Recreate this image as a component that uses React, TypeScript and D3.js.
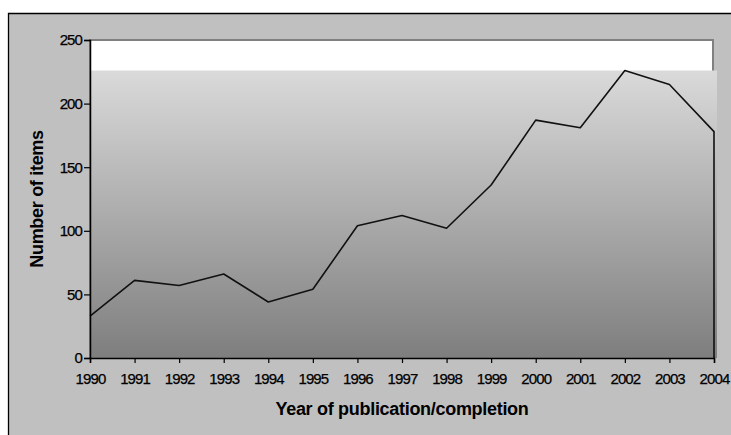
import React, { useRef, useEffect } from "react";
import * as d3 from "d3";

const years = [1990, 1991, 1992, 1993, 1994, 1995, 1996, 1997, 1998, 1999, 2000, 2001, 2002, 2003, 2004];
const items = [33, 61, 57, 66, 44, 54, 104, 112, 102, 136, 187, 181, 226, 215, 178];
const yTicks = [0, 50, 100, 150, 200, 250];

const W = 731;
const H = 435;
const FONT = "'Liberation Sans', Arial, sans-serif";

const App = () => {
  const ref = useRef(null);

  useEffect(() => {
    if (!ref.current) return;
    d3.select(ref.current).select("svg").remove();

    const svg = d3
      .select(ref.current)
      .append("svg")
      .attr("width", W)
      .attr("height", H)
      .style("display", "block");

    const x = d3.scaleLinear().domain([1990, 2004]).range([90, 714]);
    const y = d3.scaleLinear().domain([0, 250]).range([358, 40]);

    // outer chart box (right and bottom edges are off the picture)
    svg.append("rect").attr("width", W).attr("height", H).attr("fill", "#fff");
    svg.append("rect").attr("x", 8).attr("y", 13).attr("width", W - 8).attr("height", H - 13).attr("fill", "#c0c0c0");
    svg
      .append("path")
      .attr("d", `M8.5,${H}V13.5H${W}`)
      .attr("fill", "none")
      .attr("stroke", "#000")
      .attr("stroke-width", 1.3);

    const defs = svg.append("defs");
    const grad = defs
      .append("linearGradient")
      .attr("id", "fillgrad")
      .attr("x1", 0)
      .attr("y1", 0)
      .attr("x2", 0)
      .attr("y2", 1);
    grad.append("stop").attr("offset", "0%").attr("stop-color", "#dadada");
    grad.append("stop").attr("offset", "100%").attr("stop-color", "#7e7e7e");

    // plot area
    svg
      .append("rect")
      .attr("x", x(1990))
      .attr("y", y(250))
      .attr("width", x(2004) - x(1990) - 1)
      .attr("height", y(0) - y(250))
      .attr("fill", "#fff")
      .attr("stroke", "#808080")
      .attr("stroke-width", 2);

    const top = y(d3.max(items));
    svg
      .append("rect")
      .attr("x", x(1990))
      .attr("y", top)
      .attr("width", x(2004) - x(1990) + 3)
      .attr("height", y(0) - top)
      .attr("fill", "url(#fillgrad)");

    // series line
    const line = d3
      .line()
      .x((d) => x(d[0]))
      .y((d) => y(d[1]));
    const pts = years.map((yr, i) => [yr, items[i]]);
    pts.push([2004, 0]);
    svg
      .append("path")
      .datum(pts)
      .attr("fill", "none")
      .attr("stroke", "#111")
      .attr("stroke-width", 1.6)
      .attr("stroke-linejoin", "round")
      .attr("d", line);

    // axes
    const yAxis = svg
      .append("g")
      .attr("transform", `translate(${x(1990)},0)`)
      .call(d3.axisLeft(y).tickValues(yTicks).tickSize(6).tickPadding(2));
    const xAxis = svg
      .append("g")
      .attr("transform", `translate(0,${y(0)})`)
      .call(d3.axisBottom(x).tickValues(years).tickFormat(d3.format("d")).tickSize(5).tickPadding(10));

    [yAxis, xAxis].forEach((g) => {
      g.select(".domain").attr("stroke", "#000").attr("stroke-width", 1.5);
      g.selectAll(".tick line").attr("stroke", "#000").attr("stroke-width", 1.2);
      g.selectAll("text")
        .attr("fill", "#000")
        .attr("stroke", "#000")
        .attr("stroke-width", 0.25)
        .style("font-family", FONT)
        .style("font-size", "15px")
        .style("letter-spacing", "-0.9px");
    });

    svg
      .append("text")
      .attr("x", (x(1990) + x(2004)) / 2)
      .attr("y", 415)
      .attr("text-anchor", "middle")
      .style("font-family", FONT)
      .style("font-size", "18px")
      .style("font-weight", "bold")
      .style("letter-spacing", "-0.3px")
      .text("Year of publication/completion");

    svg
      .append("text")
      .attr("transform", "translate(43,199) rotate(-90)")
      .attr("text-anchor", "middle")
      .style("font-family", FONT)
      .style("font-size", "18px")
      .style("font-weight", "bold")
      .style("letter-spacing", "-0.3px")
      .text("Number of items");
  }, []);

  return <div ref={ref} style={{ position: "absolute", left: 0, top: 0, width: W, height: H }} />;
};

export default App;
